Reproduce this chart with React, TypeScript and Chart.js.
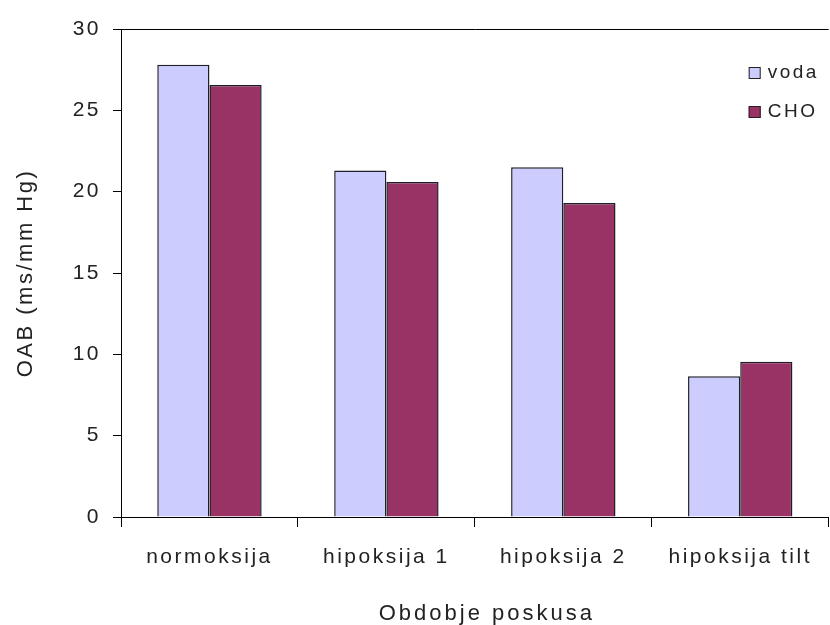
import React, { useEffect, useRef } from "react";
import { Chart, registerables } from "chart.js";

Chart.register(...registerables);

// Experiment phases and the mean OAB per drink group
const categories = ["normoksija", "hipoksija 1", "hipoksija 2", "hipoksija tilt"];
const vodaValues = [27.8, 21.3, 21.5, 8.65];
const choValues = [26.55, 20.6, 19.3, 9.55];
const seriesNames = ["voda", "CHO"];
const seriesColors = ["#CCCCFF", "#993366"];
const yTicks = [0, 5, 10, 15, 20, 25, 30];
const xTitle = "Obdobje poskusa";
const yTitle = "OAB (ms/mm Hg)";

const FONT = "'Liberation Sans', Arial, sans-serif";
const TEXT = "#222222";
const SPACING = "2.5px";

// Keeps the wide letter tracking on every text draw (canvas resets state on resize)
const trackingPlugin = {
  id: "tracking",
  beforeLayout(chart: any) {
    (chart.ctx as any).letterSpacing = SPACING;
  },
  beforeDraw(chart: any) {
    (chart.ctx as any).letterSpacing = SPACING;
  },
};

// Small boxed legend inside the plot's upper-right corner, plus the x-axis title
const legendPlugin = {
  id: "boxLegend",
  afterDraw(chart: any) {
    const ctx = chart.ctx;
    const x = chart.chartArea.right - 80;
    const rows = [chart.chartArea.top + 44, chart.chartArea.top + 83];
    ctx.save();
    (ctx as any).letterSpacing = "2.5px";
    ctx.font = `19px ${FONT}`;
    ctx.textBaseline = "middle";
    ctx.textAlign = "left";
    seriesNames.forEach((name, i) => {
      const y = rows[i];
      ctx.fillStyle = seriesColors[i];
      ctx.fillRect(x, y - 6, 12, 12);
      ctx.strokeStyle = "#222";
      ctx.lineWidth = 1;
      ctx.strokeRect(x + 0.5, y - 5.5, 11, 11);
      ctx.fillStyle = TEXT;
      ctx.fillText(name, x + 19, y);
    });

    (ctx as any).letterSpacing = "3px";
    ctx.font = `22px ${FONT}`;
    ctx.textAlign = "center";
    ctx.fillText(xTitle, chart.chartArea.left + (chart.chartArea.right - chart.chartArea.left) / 2 + 12, 614);
    ctx.restore();
  },
};

export default function App() {
  const canvasRef = useRef<HTMLCanvasElement | null>(null);

  useEffect(() => {
    document.body.style.margin = "0";
    const canvas = canvasRef.current;
    if (!canvas) return;

    const chart = new Chart(canvas, {
      type: "bar",
      data: {
        labels: categories,
        datasets: [
          {
            label: seriesNames[0],
            data: vodaValues,
            backgroundColor: seriesColors[0],
            borderColor: "#1f1f2a",
            borderWidth: 1.5,
          },
          {
            label: seriesNames[1],
            data: choValues,
            backgroundColor: seriesColors[1],
            borderColor: "#1f1f2a",
            borderWidth: 1.5,
          },
        ],
      },
      options: {
        responsive: false,
        animation: false,
        devicePixelRatio: 1,
        layout: { padding: { top: 29, right: 0, left: 0, bottom: 0 } },
        datasets: {
          bar: { categoryPercentage: 0.59, barPercentage: 1.0 },
        },
        plugins: {
          legend: { display: false },
          tooltip: { enabled: false },
        },
        scales: {
          x: {
            grid: {
              offset: true,
              drawOnChartArea: false,
              tickLength: 10,
              tickColor: "#000",
            },
            border: { display: true, color: "#000", width: 1 },
            ticks: {
              color: TEXT,
              font: { family: FONT, size: 21 },
              padding: 18,
              maxRotation: 0,
            },
            afterFit(scale: any) {
              scale.height = 108;
            },
          },
          y: {
            min: 0,
            max: 30,
            afterBuildTicks(scale: any) {
              scale.ticks = yTicks.map((v) => ({ value: v }));
            },
            grid: {
              color: (c: any) => (c.tick && c.tick.value === 30 ? "#000" : "rgba(0,0,0,0)"),
              tickColor: "#000",
              tickLength: 8,
              lineWidth: 1,
            },
            border: { display: true, color: "#000", width: 1 },
            ticks: {
              color: TEXT,
              font: { family: FONT, size: 21 },
              padding: 12,
            },
            title: {
              display: true,
              text: yTitle,
              color: TEXT,
              font: { family: FONT, size: 22 },
              padding: { top: 13, bottom: 0 },
            },
            afterFit(scale: any) {
              scale.width = 121;
            },
          },
        },
      },
      plugins: [trackingPlugin, legendPlugin],
    });

    return () => chart.destroy();
  }, []);

  return (
    <div style={{ width: 830, height: 625, background: "#fff" }}>
      <canvas ref={canvasRef} width={830} height={625} />
    </div>
  );
}
